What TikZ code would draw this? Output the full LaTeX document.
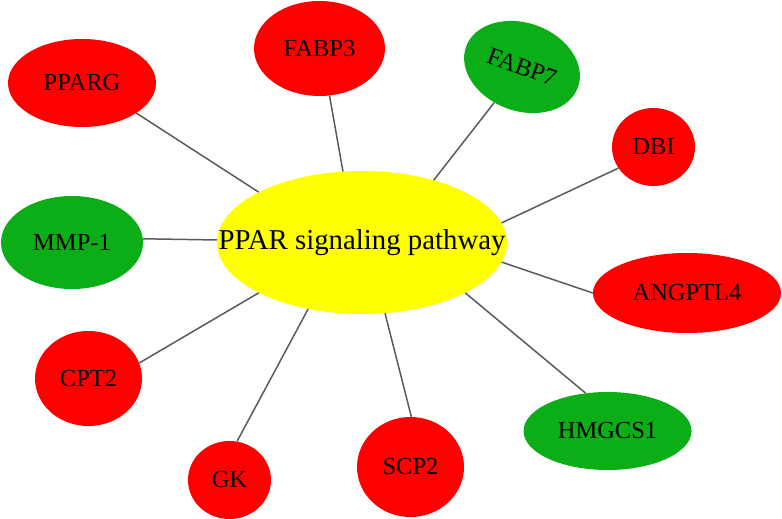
\documentclass[tikz,border=0pt]{standalone}
\usepackage{fontspec}
\setmainfont{Liberation Serif}
\usetikzlibrary{shapes.geometric}
\definecolor{nred}{RGB}{255,0,0}
\definecolor{ngreen}{RGB}{11,174,23}
\definecolor{nyellow}{RGB}{255,255,0}
\definecolor{edgegray}{RGB}{90,90,90}
\begin{document}
\begin{tikzpicture}[x=1pt,y=-1pt,
  gene/.style={ellipse,inner sep=0pt,draw=none,font=\fontsize{24.5}{24.5}\selectfont,text=black},
  up/.style={gene,fill=nred},
  down/.style={gene,fill=ngreen},
  link/.style={draw=edgegray,line width=1.5pt}]
\useasboundingbox (0,0) rectangle (782,519);
% hub
\node[ellipse,fill=nyellow,inner sep=0pt,minimum width=290pt,minimum height=143pt,
  label={[font=\fontsize{28.8}{28.8}\selectfont,text=black]center:PPAR signaling pathway}] (hub) at (362,242.5) {};
% genes
\node[up,minimum width=148pt,minimum height=88pt] (pparg) at (82,83) {PPARG};
\node[up,minimum width=131pt,minimum height=95pt] (fabp3) at (319.5,48.5) {FABP3};
\node[down,minimum width=119pt,minimum height=88pt,rotate=-20] (fabp7) at (522,67) {FABP7};
\node[up,minimum width=83pt,minimum height=78pt] (dbi) at (653.5,147) {DBI};
\node[down,minimum width=142pt,minimum height=93pt] (mmp) at (72,242.5) {MMP-1};
\node[up,minimum width=188pt,minimum height=80pt] (angptl) at (687,293) {ANGPTL4};
\node[up,minimum width=107pt,minimum height=95pt] (cpt) at (88.5,378.5) {CPT2};
\node[up,minimum width=83pt,minimum height=78pt] (gk) at (229.5,480) {GK};
\node[up,minimum width=107pt,minimum height=100pt] (scp) at (410.5,467) {SCP2};
\node[down,minimum width=168pt,minimum height=78pt] (hmgcs) at (607.5,431) {HMGCS1};
% edges
\draw[link] (hub.154.3) -- (pparg.-29.5);
\draw[link] (hub.105.8) -- (fabp3.-78.7);
\draw[link] (hub.41.5) -- (fabp7);
\draw[link] (hub.8.4) -- (dbi.211.7);
\draw[link] (hub.179.8) -- (mmp.3.6);
\draw[link] (hub.-8.7) -- (angptl.180);
\draw[link] (hub.-26.1) -- (hmgcs.120);
\draw[link] (hub.-72.2) -- (scp.89.4);
\draw[link] (hub.231.4) -- (gk.79.1);
\draw[link] (hub.206.1) -- (cpt.17.8);
\end{tikzpicture}
\end{document}
